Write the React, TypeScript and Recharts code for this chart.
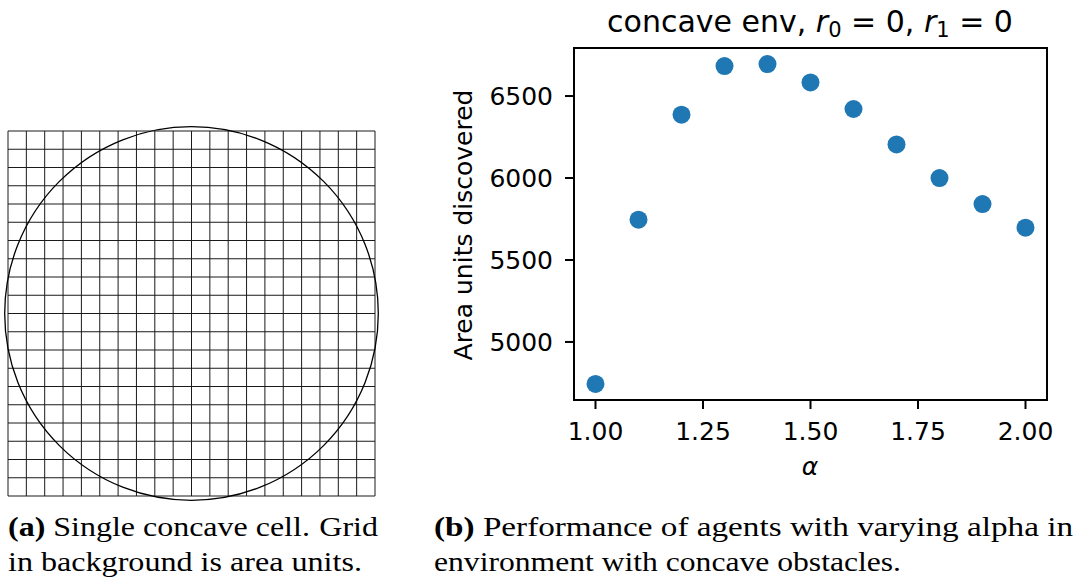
import React from 'react';
import {
  ScatterChart,
  Scatter,
  XAxis,
  YAxis,
  CartesianGrid,
  ReferenceArea,
  ReferenceDot,
} from 'recharts';

// ---- data (panel b) ----
const alphaValues = [1.0, 1.1, 1.2, 1.3, 1.4, 1.5, 1.6, 1.7, 1.8, 1.9, 2.0];
const areaDiscovered = [4744, 5746, 6386, 6683, 6695, 6583, 6421, 6205, 6000, 5841, 5697];
const xTicks = [1.0, 1.25, 1.5, 1.75, 2.0];
const yTicks = [5000, 5500, 6000, 6500];
const xDomain = [0.95, 2.05];
const yDomain = [4646, 6793];

// ---- data (panel a) ----
const gridTicks = [0, 1, 2, 3, 4, 5, 6, 7, 8, 9, 10, 11, 12, 13, 14, 15, 16, 17, 18, 19, 20];
const cellCenter = { x: 10, y: 10 };
const cellRadiusUnits = 10.18;

const scatterData = alphaValues.map((a, i) => ({ x: a, y: areaDiscovered[i] }));

const FONT = "'DejaVu Sans', sans-serif";
const SERIF = 'Liberation Serif, serif';
const BLUE = '#1f77b4';

// panel a geometry
const A_W = 400;
const A_H = 510;
const A_MARGIN = { top: 131, left: 8, right: 25, bottom: 14 };
const A_PLOT_W = A_W - A_MARGIN.left - A_MARGIN.right;

function PanelA() {
  const pxPerUnit = A_PLOT_W / 20;
  return (
    <div style={{ position: 'absolute', left: 0, top: 0 }}>
      <ScatterChart width={A_W} height={A_H} margin={A_MARGIN}>
        <XAxis type="number" dataKey="x" domain={[0, 20]} ticks={gridTicks} interval={0} hide allowDataOverflow />
        <YAxis type="number" dataKey="y" domain={[0, 20]} ticks={gridTicks} interval={0} hide allowDataOverflow />
        <CartesianGrid stroke="#1a1a1a" strokeWidth={1} fill="none" />
        <Scatter data={[]} isAnimationActive={false} />
        <ReferenceDot
          x={cellCenter.x}
          y={cellCenter.y}
          ifOverflow="visible"
          shape={(p: any) => (
            <circle
              cx={p.cx}
              cy={p.cy}
              r={cellRadiusUnits * pxPerUnit}
              fill="none"
              stroke="#000"
              strokeWidth={1.3}
            />
          )}
        />
      </ScatterChart>
    </div>
  );
}

function PanelB() {
  const tickStyle = { fontSize: 25, fontFamily: FONT, fill: '#000' };
  return (
    <div style={{ position: 'absolute', left: 0, top: 0 }}>
      <ScatterChart
        width={1078}
        height={588}
        margin={{ top: 48, right: 31, bottom: 128, left: 474 }}
      >
        <XAxis
          type="number"
          dataKey="x"
          domain={xDomain}
          ticks={xTicks}
          allowDataOverflow
          height={60}
          tickSize={9}
          tickMargin={13}
          tickFormatter={(v: number) => v.toFixed(2)}
          tick={tickStyle}
          axisLine={{ stroke: '#000', strokeWidth: 2 }}
          tickLine={{ stroke: '#000', strokeWidth: 2 }}
        />
        <YAxis
          type="number"
          dataKey="y"
          domain={yDomain}
          ticks={yTicks}
          allowDataOverflow
          width={100}
          tickSize={9}
          tickMargin={12}
          tick={tickStyle}
          axisLine={{ stroke: '#000', strokeWidth: 2 }}
          tickLine={{ stroke: '#000', strokeWidth: 2 }}
        />
        <ReferenceArea
          x1={xDomain[0]}
          x2={xDomain[1]}
          y1={yDomain[0]}
          y2={yDomain[1]}
          fill="none"
          fillOpacity={0}
          stroke="#000"
          strokeWidth={2}
          ifOverflow="visible"
        />
        <Scatter
          data={scatterData}
          isAnimationActive={false}
          shape={(p: any) => <circle cx={p.cx} cy={p.cy} r={9} fill={BLUE} />}
        />
      </ScatterChart>
    </div>
  );
}

function Labels() {
  const cap = { fontFamily: SERIF, fontSize: 27, fill: '#000' } as React.CSSProperties;
  return (
    <svg
      width={1078}
      height={588}
      style={{ position: 'absolute', left: 0, top: 0, pointerEvents: 'none' }}
    >
      <text x={810} y={32} textAnchor="middle" fontFamily={FONT} fontSize={30} fill="#000">
        <tspan>concave env, </tspan>
        <tspan fontStyle="italic">r</tspan>
        <tspan fontSize={21} dy={5}>0</tspan>
        <tspan dy={-5}> = 0, </tspan>
        <tspan fontStyle="italic">r</tspan>
        <tspan fontSize={21} dy={5}>1</tspan>
        <tspan dy={-5}> = 0</tspan>
      </text>
      <text
        x={0}
        y={0}
        transform="translate(472,225) rotate(-90)"
        textAnchor="middle"
        fontFamily={FONT}
        fontSize={25}
        fill="#000"
      >
        Area units discovered
      </text>
      <text x={810} y={475} textAnchor="middle" fontFamily={FONT} fontSize={25} fontStyle="italic" fill="#000">
        α
      </text>

      <text x={8} y={536} style={cap} textLength={370} lengthAdjust="spacingAndGlyphs">
        <tspan fontWeight="bold">(a)</tspan> Single concave cell.<tspan dx={8}>Grid</tspan>
      </text>
      <text x={8} y={571} style={cap} textLength={354} lengthAdjust="spacingAndGlyphs">
        in background is area units.
      </text>
      <text x={434} y={536} style={cap} textLength={639} lengthAdjust="spacingAndGlyphs">
        <tspan fontWeight="bold">(b)</tspan> Performance of agents with varying alpha in
      </text>
      <text x={434} y={571} style={cap} textLength={467} lengthAdjust="spacingAndGlyphs">
        environment with concave obstacles.
      </text>
    </svg>
  );
}

export default function App() {
  return (
    <div style={{ position: 'absolute', left: 0, top: 0, width: 1078, height: 588, background: '#fff' }}>
      <PanelA />
      <PanelB />
      <Labels />
    </div>
  );
}
